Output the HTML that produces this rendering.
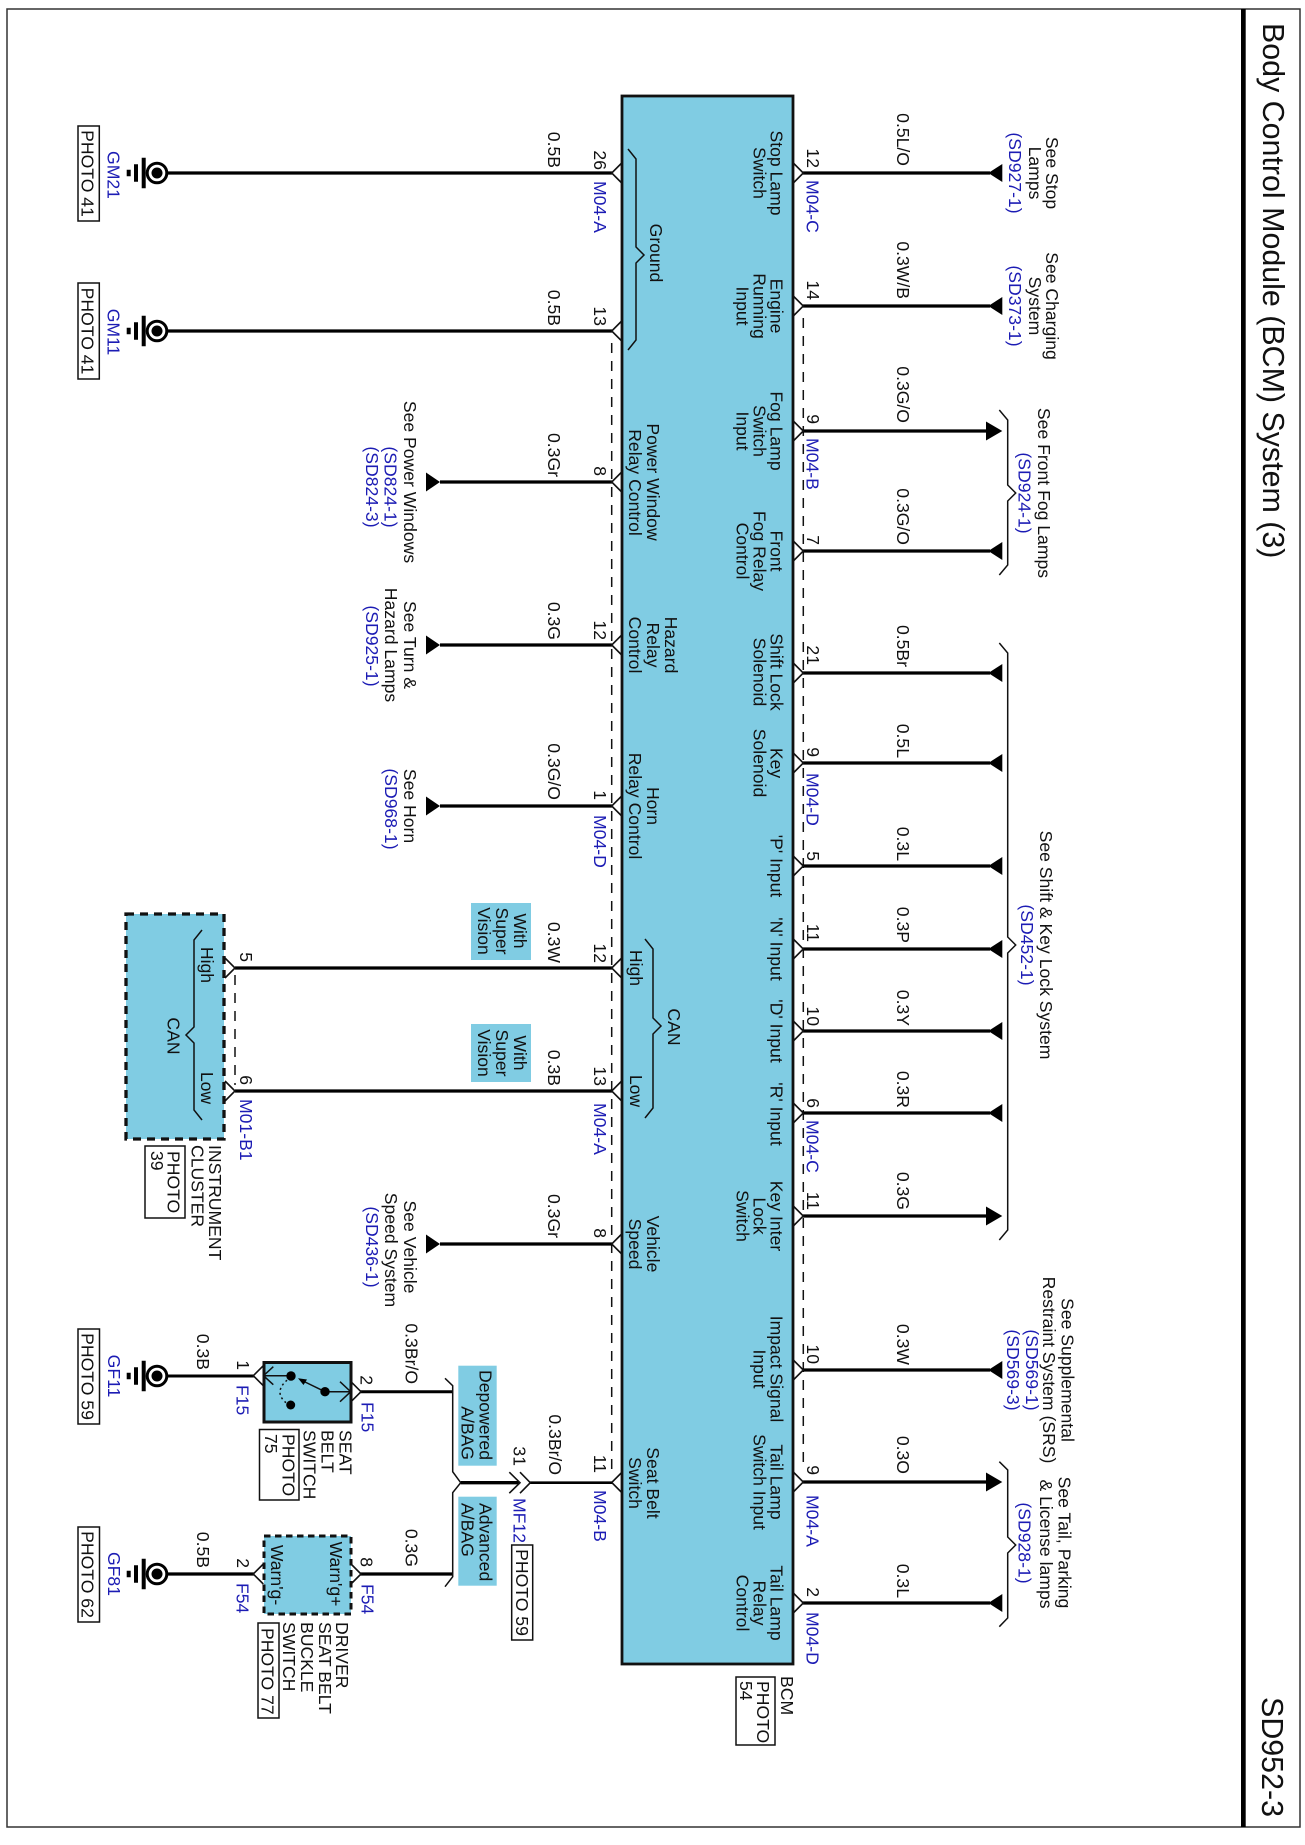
<!DOCTYPE html>
<html><head><meta charset="utf-8"><title>SD952-3</title>
<style>
html,body{margin:0;padding:0;background:#fff}
svg{display:block}
text{font-family:"Liberation Sans",sans-serif;font-size:17.6px;fill:#111}
.m{text-anchor:middle}.e{text-anchor:end}
.b{fill:#1c1cb4}
.T{font-size:30.4px}
.w{stroke:#000;stroke-width:3.3;fill:none}
.c{stroke:#111;stroke-width:1.6;fill:none}
.d{stroke:#111;stroke-width:1.5;fill:none;stroke-dasharray:10 8}
.x{stroke:#111;stroke-width:1.5;fill:none}
.p{stroke:#111;stroke-width:1.5;fill:#fff}
.f{fill:#80cce3}
</style></head><body>
<svg width="1305" height="1845" viewBox="0 0 1305 1845" xmlns="http://www.w3.org/2000/svg">
<defs>
<path id="cl" class="c" d="M10,-10L0,0L10,10"/>
<path id="cr" class="c" d="M-10,-10L0,0L-10,10"/>
<path id="al" d="M0,-9.5V9.5L14,0Z"/>
<path id="ai" d="M0,0L14,-9V9Z"/>
<path id="ao" d="M0,-9.5V9.5L16.3,0Z"/>
<g id="gnd">
<circle r="9.8" fill="#fff" stroke="#000" stroke-width="3"/><circle r="5.5"/>
<path d="M-13.3,-15.3V15.3M-21,-8.8V8.8M-28.3,-3.3V3.3" stroke="#000" stroke-width="4" fill="none"/>
</g>
</defs>

<rect x="7" y="9" width="1293" height="1818" fill="#fff" stroke="#333" stroke-width="1.5"/>
<rect x="1241" y="9" width="4.7" height="1818" fill="#000"/>
<text class="T" transform="translate(1263 23)rotate(90)">Body Control Module (BCM) System (3)</text>
<text class="T e" transform="translate(1262 1817)rotate(90)">SD952-3</text>

<!-- BCM -->
<rect x="622" y="96" width="171" height="1568" class="f" stroke="#111" stroke-width="2.8"/>

<!-- dashed buses -->
<path class="d" d="M611.7,343V1470"/>
<path class="d" d="M803.3,318V1470"/>
<path class="d" d="M235,975V1085"/>

<!-- left wires -->
<path class="w" d="M168,173H612M168,331H612M440,482H612M440,645H612M440,806H612M235,968H612M235,1091H612M440,1244H612"/>
<!-- right wires -->
<path class="w" d="M803,173H990M803,306H990M803,431H990M803,551H990M803,673H990M803,763H990M803,866H990M803,949H990M803,1031H990M803,1113H990M803,1216H990M803,1370H990M803,1482H990M803,1603H990"/>

<!-- chevrons -->
<use href="#cl" x="611.7" y="173"/><use href="#cl" x="611.7" y="331"/><use href="#cl" x="611.7" y="482"/><use href="#cl" x="611.7" y="645"/><use href="#cl" x="611.7" y="806"/><use href="#cl" x="611.7" y="968"/><use href="#cl" x="611.7" y="1091"/><use href="#cl" x="611.7" y="1244"/><use href="#cl" x="611.7" y="1482.5"/>
<use href="#cr" x="803.3" y="173"/><use href="#cr" x="803.3" y="306"/><use href="#cr" x="803.3" y="431"/><use href="#cr" x="803.3" y="551"/><use href="#cr" x="803.3" y="673"/><use href="#cr" x="803.3" y="763"/><use href="#cr" x="803.3" y="866"/><use href="#cr" x="803.3" y="949"/><use href="#cr" x="803.3" y="1031"/><use href="#cr" x="803.3" y="1113"/><use href="#cr" x="803.3" y="1216"/><use href="#cr" x="803.3" y="1370"/><use href="#cr" x="803.3" y="1482"/><use href="#cr" x="803.3" y="1603"/>

<!-- arrows -->
<use href="#al" x="426" y="482"/><use href="#al" x="426" y="645"/><use href="#al" x="426" y="806"/><use href="#al" x="426" y="1244"/>
<use href="#ai" x="988.3" y="173"/><use href="#ai" x="988.3" y="306"/><use href="#ao" x="986" y="431"/><use href="#ai" x="988.3" y="551"/><use href="#ai" x="988.3" y="673"/><use href="#ai" x="988.3" y="763"/><use href="#ai" x="988.3" y="866"/><use href="#ai" x="988.3" y="949"/><use href="#ai" x="988.3" y="1031"/><use href="#ai" x="988.3" y="1113"/><use href="#ao" x="986" y="1216"/><use href="#ai" x="988.3" y="1370"/><use href="#ao" x="986" y="1482"/><use href="#ai" x="988.3" y="1603"/>

<!-- right braces -->
<path class="x" d="M999.3,410L1007.7,420V485L1015.7,493L1007.7,501V565L999.3,575"/>
<path class="x" d="M999.3,643L1007.7,653V937L1015.7,945L1007.7,953V1230L999.3,1240"/>
<path class="x" d="M999.3,1461.7L1007.7,1470V1537L1015.7,1545L1007.7,1553V1618L999.3,1626.7"/>
<!-- BCM inner braces -->
<path class="x" d="M628,149L636,159V247L644,255L636,263V340L628,350"/>
<path class="x" d="M645,939L653,949V1018L661,1026L653,1034V1108L645,1118"/>

<!-- instrument cluster -->
<rect x="126" y="914" width="98" height="225" class="f" stroke="#111" stroke-width="3.3" stroke-dasharray="8 6"/>
<path class="x" d="M202,930L194,940V1027L186,1035L194,1043V1110L202,1120"/>
<use href="#cr" x="235" y="968"/><use href="#cr" x="235" y="1091"/>

<!-- option boxes -->
<rect x="471" y="903" width="60" height="57" class="f"/>
<rect x="471" y="1024" width="60" height="58" class="f"/>
<rect x="458.3" y="1365.7" width="38.4" height="100" class="f"/>
<rect x="458.3" y="1496.7" width="38.4" height="89" class="f"/>

<!-- grounds -->
<use href="#gnd" x="157" y="173"/><use href="#gnd" x="157" y="331"/><use href="#gnd" x="157" y="1376"/><use href="#gnd" x="157" y="1574"/>

<!-- photo boxes -->
<rect class="p" x="78" y="126" width="21.3" height="95"/>
<rect class="p" x="78" y="283" width="21.3" height="96"/>
<rect class="p" x="78" y="1329" width="21.5" height="95"/>
<rect class="p" x="78" y="1527" width="21.5" height="95"/>
<rect class="p" x="145" y="1146" width="40" height="72"/>
<rect class="p" x="259.5" y="1429.5" width="39.5" height="70.5"/>
<rect class="p" x="258" y="1623" width="21" height="95"/>
<rect class="p" x="511.7" y="1545" width="21" height="95"/>
<rect class="p" x="736" y="1677" width="39" height="68"/>

<!-- seat belt switch -->
<path class="w" style="stroke-width:3" d="M168,1376H254M360,1391.7H452.7"/>
<rect x="264" y="1362.5" width="87" height="59.5" class="f" stroke="#111" stroke-width="3"/>
<use href="#cl" x="253.3" y="1375.7"/><use href="#cr" x="361" y="1391.7"/>
<path class="x" d="M264,1375.7H291M325,1391.7H350.7M273.3,1366.7L263.5,1375.7L273.3,1384.7M340,1381.7L350.7,1391.7L340,1401.7M325,1391.7L303,1381"/>
<path d="M298,1378.3L307,1379.5L303.5,1385Z"/>
<path d="M291,1377Q270,1392 289,1405" fill="none" stroke="#111" stroke-width="1.5" stroke-dasharray="2 3"/>
<circle cx="291" cy="1376" r="4.7"/><circle cx="325" cy="1391.7" r="4.7"/><circle cx="290.7" cy="1405" r="4.5"/>

<!-- driver seat belt buckle -->
<path class="w" style="stroke-width:3.2" d="M168,1574H254M360,1574H452.7"/>
<rect x="264" y="1536" width="87" height="78" class="f" stroke="#111" stroke-width="3" stroke-dasharray="6.5 4.5"/>
<use href="#cl" x="253.3" y="1574"/><use href="#cr" x="361" y="1574"/>

<!-- airbag brace and MF12 -->
<path class="x" d="M445,1378.3L452.7,1385.7V1471.7L460.7,1482.7L452.7,1492.7V1576.7L445,1586.7"/>
<path class="w" d="M460.7,1482.7H519.5"/>
<path class="w" style="stroke-width:2.6" d="M530,1482.7H612"/>
<path class="c" d="M509.3,1472.2L520,1482.7L509.3,1493.2M520,1472.2L530.3,1482.7L520,1493.2"/>

<!-- gauge labels, left -->
<text class="e" transform="translate(548 168)rotate(90)">0.5B</text>
<text class="e" transform="translate(548 326)rotate(90)">0.5B</text>
<text class="e" transform="translate(548 477)rotate(90)">0.3Gr</text>
<text class="e" transform="translate(548 640)rotate(90)">0.3G</text>
<text class="e" transform="translate(548 800)rotate(90)">0.3G/O</text>
<text class="e" transform="translate(548 963)rotate(90)">0.3W</text>
<text class="e" transform="translate(548 1086)rotate(90)">0.3B</text>
<text class="e" transform="translate(548 1238)rotate(90)">0.3Gr</text>
<text class="e" transform="translate(549 1475)rotate(90)">0.3Br/O</text>
<text class="e" transform="translate(405.7 1384)rotate(90)">0.3Br/O</text>
<text class="e" transform="translate(405.7 1567)rotate(90)">0.3G</text>
<text class="e" transform="translate(197 1370)rotate(90)">0.3B</text>
<text class="e" transform="translate(197 1568)rotate(90)">0.5B</text>

<!-- gauge labels, right -->
<text class="e" transform="translate(897 166)rotate(90)">0.5L/O</text>
<text class="e" transform="translate(897 299)rotate(90)">0.3W/B</text>
<text class="e" transform="translate(897 423)rotate(90)">0.3G/O</text>
<text class="e" transform="translate(897 545)rotate(90)">0.3G/O</text>
<text class="e" transform="translate(897 667)rotate(90)">0.5Br</text>
<text class="e" transform="translate(897 758)rotate(90)">0.5L</text>
<text class="e" transform="translate(897 861)rotate(90)">0.3L</text>
<text class="e" transform="translate(897 943)rotate(90)">0.3P</text>
<text class="e" transform="translate(897 1026)rotate(90)">0.3Y</text>
<text class="e" transform="translate(897 1108)rotate(90)">0.3R</text>
<text class="e" transform="translate(897 1210)rotate(90)">0.3G</text>
<text class="e" transform="translate(897 1365)rotate(90)">0.3W</text>
<text class="e" transform="translate(897 1474)rotate(90)">0.3O</text>
<text class="e" transform="translate(897 1598)rotate(90)">0.3L</text>

<!-- pins, left -->
<text class="e" transform="translate(594 170)rotate(90)">26</text>
<text class="e" transform="translate(594 326)rotate(90)">13</text>
<text class="e" transform="translate(594 476)rotate(90)">8</text>
<text class="e" transform="translate(594 640)rotate(90)">12</text>
<text class="e" transform="translate(594 800)rotate(90)">1</text>
<text class="e" transform="translate(594 963)rotate(90)">12</text>
<text class="e" transform="translate(594 1086)rotate(90)">13</text>
<text class="e" transform="translate(594 1238)rotate(90)">8</text>
<text class="e" transform="translate(594 1473)rotate(90)">11</text>
<text class="e" transform="translate(513.3 1466)rotate(90)">31</text>
<text class="e" transform="translate(237 1370)rotate(90)">1</text>
<text class="e" transform="translate(360.5 1385)rotate(90)">2</text>
<text class="e" transform="translate(237 1568)rotate(90)">2</text>
<text class="e" transform="translate(360.5 1567)rotate(90)">8</text>
<text class="e" transform="translate(240 962)rotate(90)">5</text>
<text class="e" transform="translate(240 1085)rotate(90)">6</text>

<!-- pins, right -->
<text class="e" transform="translate(807 168)rotate(90)">12</text>
<text class="e" transform="translate(807 300)rotate(90)">14</text>
<text class="e" transform="translate(807 424)rotate(90)">9</text>
<text class="e" transform="translate(807 545)rotate(90)">7</text>
<text class="e" transform="translate(807 665)rotate(90)">21</text>
<text class="e" transform="translate(807 757)rotate(90)">9</text>
<text class="e" transform="translate(807 861)rotate(90)">5</text>
<text class="e" transform="translate(807 942)rotate(90)">11</text>
<text class="e" transform="translate(807 1026)rotate(90)">10</text>
<text class="e" transform="translate(807 1108)rotate(90)">6</text>
<text class="e" transform="translate(807 1210)rotate(90)">11</text>
<text class="e" transform="translate(807 1364)rotate(90)">10</text>
<text class="e" transform="translate(807 1475)rotate(90)">9</text>
<text class="e" transform="translate(807 1597)rotate(90)">2</text>

<!-- connector ids -->
<text class="b" transform="translate(594 181)rotate(90)">M04-A</text>
<text class="b" transform="translate(594 815)rotate(90)">M04-D</text>
<text class="b" transform="translate(594 1103)rotate(90)">M04-A</text>
<text class="b" transform="translate(594 1490)rotate(90)">M04-B</text>
<text class="b" transform="translate(806.5 180)rotate(90)">M04-C</text>
<text class="b" transform="translate(806.5 438)rotate(90)">M04-B</text>
<text class="b" transform="translate(806.5 773)rotate(90)">M04-D</text>
<text class="b" transform="translate(806.5 1120)rotate(90)">M04-C</text>
<text class="b" transform="translate(806.5 1495)rotate(90)">M04-A</text>
<text class="b" transform="translate(806.5 1612)rotate(90)">M04-D</text>
<text class="b" transform="translate(240 1099)rotate(90)">M01-B1</text>
<text class="b" transform="translate(513.3 1498)rotate(90)">MF12</text>
<text class="b" transform="translate(236.7 1385)rotate(90)">F15</text>
<text class="b" transform="translate(361.7 1402)rotate(90)">F15</text>
<text class="b" transform="translate(236.7 1583)rotate(90)">F54</text>
<text class="b" transform="translate(361.7 1584)rotate(90)">F54</text>
<text class="b m" transform="translate(107.3 175)rotate(90)">GM21</text>
<text class="b m" transform="translate(107.3 332)rotate(90)">GM11</text>
<text class="b m" transform="translate(108 1376)rotate(90)">GF11</text>
<text class="b m" transform="translate(108 1574)rotate(90)">GF81</text>

<!-- photo text -->
<text class="m" transform="translate(81.7 173.5)rotate(90)">PHOTO 41</text>
<text class="m" transform="translate(81.7 331)rotate(90)">PHOTO 41</text>
<text class="m" transform="translate(81.7 1376.5)rotate(90)">PHOTO 59</text>
<text class="m" transform="translate(81.7 1574.5)rotate(90)">PHOTO 62</text>
<text class="m" transform="translate(516 1592.5)rotate(90)">PHOTO 59</text>
<text transform="translate(261.5 1628)rotate(90)">PHOTO 77</text>
<text transform="translate(167.5 1151)rotate(90)">PHOTO</text>
<text transform="translate(151 1151)rotate(90)">39</text>
<text transform="translate(282.7 1434)rotate(90)">PHOTO</text>
<text transform="translate(265 1434)rotate(90)">75</text>
<text transform="translate(757 1681)rotate(90)">PHOTO</text>
<text transform="translate(740 1681)rotate(90)">54</text>
<text transform="translate(781 1676)rotate(90)">BCM</text>

<!-- component labels -->
<text transform="translate(209 1145)rotate(90)">INSTRUMENT</text>
<text transform="translate(191.5 1145)rotate(90)">CLUSTER</text>
<text transform="translate(339.3 1430)rotate(90)">SEAT</text>
<text transform="translate(321.7 1430)rotate(90)">BELT</text>
<text transform="translate(303.3 1430)rotate(90)">SWITCH</text>
<text transform="translate(336 1622)rotate(90)">DRIVER</text>
<text transform="translate(319 1622)rotate(90)">SEAT BELT</text>
<text transform="translate(301 1622)rotate(90)">BUCKLE</text>
<text transform="translate(283 1622)rotate(90)">SWITCH</text>
<text class="m" transform="translate(330 1574)rotate(90)">Warn'g+</text>
<text class="m" transform="translate(271 1575)rotate(90)">Warn'g-</text>
<text class="m" transform="translate(201 965)rotate(90)">High</text>
<text class="m" transform="translate(201 1088)rotate(90)">Low</text>
<text class="m" transform="translate(167.5 1036)rotate(90)">CAN</text>

<!-- option labels -->
<text class="m" transform="translate(514 931)rotate(90)">With</text>
<text class="m" transform="translate(496 931)rotate(90)">Super</text>
<text class="m" transform="translate(478 931)rotate(90)">Vision</text>
<text class="m" transform="translate(514 1053)rotate(90)">With</text>
<text class="m" transform="translate(496 1053)rotate(90)">Super</text>
<text class="m" transform="translate(478 1053)rotate(90)">Vision</text>
<text class="e" transform="translate(479.5 1460)rotate(90)">Depowered</text>
<text class="e" transform="translate(461.7 1460)rotate(90)">A/BAG</text>
<text transform="translate(479.5 1503)rotate(90)">Advanced</text>
<text transform="translate(461.7 1503)rotate(90)">A/BAG</text>

<!-- BCM left column labels -->
<text class="m" transform="translate(650 253)rotate(90)">Ground</text>
<text class="m" transform="translate(647 482)rotate(90)">Power Window</text>
<text class="m" transform="translate(629 482.5)rotate(90)">Relay Control</text>
<text class="m" transform="translate(665 645)rotate(90)">Hazard</text>
<text class="m" transform="translate(647 645)rotate(90)">Relay</text>
<text class="m" transform="translate(629 645)rotate(90)">Control</text>
<text class="m" transform="translate(647 806)rotate(90)">Horn</text>
<text class="m" transform="translate(629 806)rotate(90)">Relay Control</text>
<text class="m" transform="translate(630 968)rotate(90)">High</text>
<text class="m" transform="translate(630 1091)rotate(90)">Low</text>
<text class="m" transform="translate(668 1027)rotate(90)">CAN</text>
<text class="m" transform="translate(647 1244)rotate(90)">Vehicle</text>
<text class="m" transform="translate(629 1244)rotate(90)">Speed</text>
<text class="m" transform="translate(647 1483)rotate(90)">Seat Belt</text>
<text class="m" transform="translate(629 1483)rotate(90)">Switch</text>

<!-- BCM right column labels -->
<text class="m" transform="translate(770.5 173)rotate(90)">Stop Lamp</text>
<text class="m" transform="translate(753.5 173)rotate(90)">Switch</text>
<text class="m" transform="translate(770.5 306)rotate(90)">Engine</text>
<text class="m" transform="translate(753.5 306)rotate(90)">Running</text>
<text class="m" transform="translate(736.5 306)rotate(90)">Input</text>
<text class="m" transform="translate(770.5 431)rotate(90)">Fog Lamp</text>
<text class="m" transform="translate(753.5 431)rotate(90)">Switch</text>
<text class="m" transform="translate(736.5 431)rotate(90)">Input</text>
<text class="m" transform="translate(770.5 551)rotate(90)">Front</text>
<text class="m" transform="translate(753.5 551)rotate(90)">Fog Relay</text>
<text class="m" transform="translate(736.5 551)rotate(90)">Control</text>
<text class="m" transform="translate(770.5 672)rotate(90)">Shift Lock</text>
<text class="m" transform="translate(753.5 672)rotate(90)">Solenoid</text>
<text class="m" transform="translate(770.5 763)rotate(90)">Key</text>
<text class="m" transform="translate(753.5 763)rotate(90)">Solenoid</text>
<text class="m" transform="translate(770.5 866)rotate(90)">'P' Input</text>
<text class="m" transform="translate(770.5 949)rotate(90)">'N' Input</text>
<text class="m" transform="translate(770.5 1031)rotate(90)">'D' Input</text>
<text class="m" transform="translate(770.5 1114)rotate(90)">'R' Input</text>
<text class="m" transform="translate(770.5 1216)rotate(90)">Key Inter</text>
<text class="m" transform="translate(753.5 1216)rotate(90)">Lock</text>
<text class="m" transform="translate(736.5 1216)rotate(90)">Switch</text>
<text class="m" transform="translate(770.5 1369)rotate(90)">Impact Signal</text>
<text class="m" transform="translate(753.5 1369)rotate(90)">Input</text>
<text class="m" transform="translate(770.5 1482)rotate(90)">Tail Lamp</text>
<text class="m" transform="translate(753.5 1482)rotate(90)">Switch Input</text>
<text class="m" transform="translate(770.5 1603)rotate(90)">Tail Lamp</text>
<text class="m" transform="translate(753.5 1603)rotate(90)">Relay</text>
<text class="m" transform="translate(736.5 1603)rotate(90)">Control</text>

<!-- references, left -->
<text class="m" transform="translate(404 482)rotate(90)">See Power Windows</text>
<text class="m b" transform="translate(384.5 487)rotate(90)">(SD824-1)</text>
<text class="m b" transform="translate(366 487)rotate(90)">(SD824-3)</text>
<text class="m" transform="translate(404 645)rotate(90)">See Turn &amp;</text>
<text class="m" transform="translate(385 645)rotate(90)">Hazard Lamps</text>
<text class="m b" transform="translate(366 646)rotate(90)">(SD925-1)</text>
<text class="m" transform="translate(404 806)rotate(90)">See Horn</text>
<text class="m b" transform="translate(385 809)rotate(90)">(SD968-1)</text>
<text class="m" transform="translate(404 1247)rotate(90)">See Vehicle</text>
<text class="m" transform="translate(385 1250)rotate(90)">Speed System</text>
<text class="m b" transform="translate(366 1247)rotate(90)">(SD436-1)</text>

<!-- references, right -->
<text class="m" transform="translate(1046 173)rotate(90)">See Stop</text>
<text class="m" transform="translate(1029 173)rotate(90)">Lamps</text>
<text class="m b" transform="translate(1009 173)rotate(90)">(SD927-1)</text>
<text class="m" transform="translate(1046 306)rotate(90)">See Charging</text>
<text class="m" transform="translate(1029 306)rotate(90)">System</text>
<text class="m b" transform="translate(1009 306)rotate(90)">(SD373-1)</text>
<text class="m" transform="translate(1038 493)rotate(90)">See Front Fog Lamps</text>
<text class="m b" transform="translate(1018.5 493)rotate(90)">(SD924-1)</text>
<text class="m" transform="translate(1040 945)rotate(90)">See Shift &amp; Key Lock System</text>
<text class="m b" transform="translate(1021 945)rotate(90)">(SD452-1)</text>
<text class="m" transform="translate(1061.7 1370)rotate(90)">See Supplemental</text>
<text class="m" transform="translate(1043 1370)rotate(90)">Restraint System (SRS)</text>
<text class="m b" transform="translate(1026 1370)rotate(90)">(SD569-1)</text>
<text class="m b" transform="translate(1007 1370)rotate(90)">(SD569-3)</text>
<text class="m" transform="translate(1058.3 1542.5)rotate(90)">See Tail, Parking</text>
<text class="m" transform="translate(1040 1544)rotate(90)">&amp; License lamps</text>
<text class="m b" transform="translate(1018.5 1543)rotate(90)">(SD928-1)</text>
</svg>
</body></html>
